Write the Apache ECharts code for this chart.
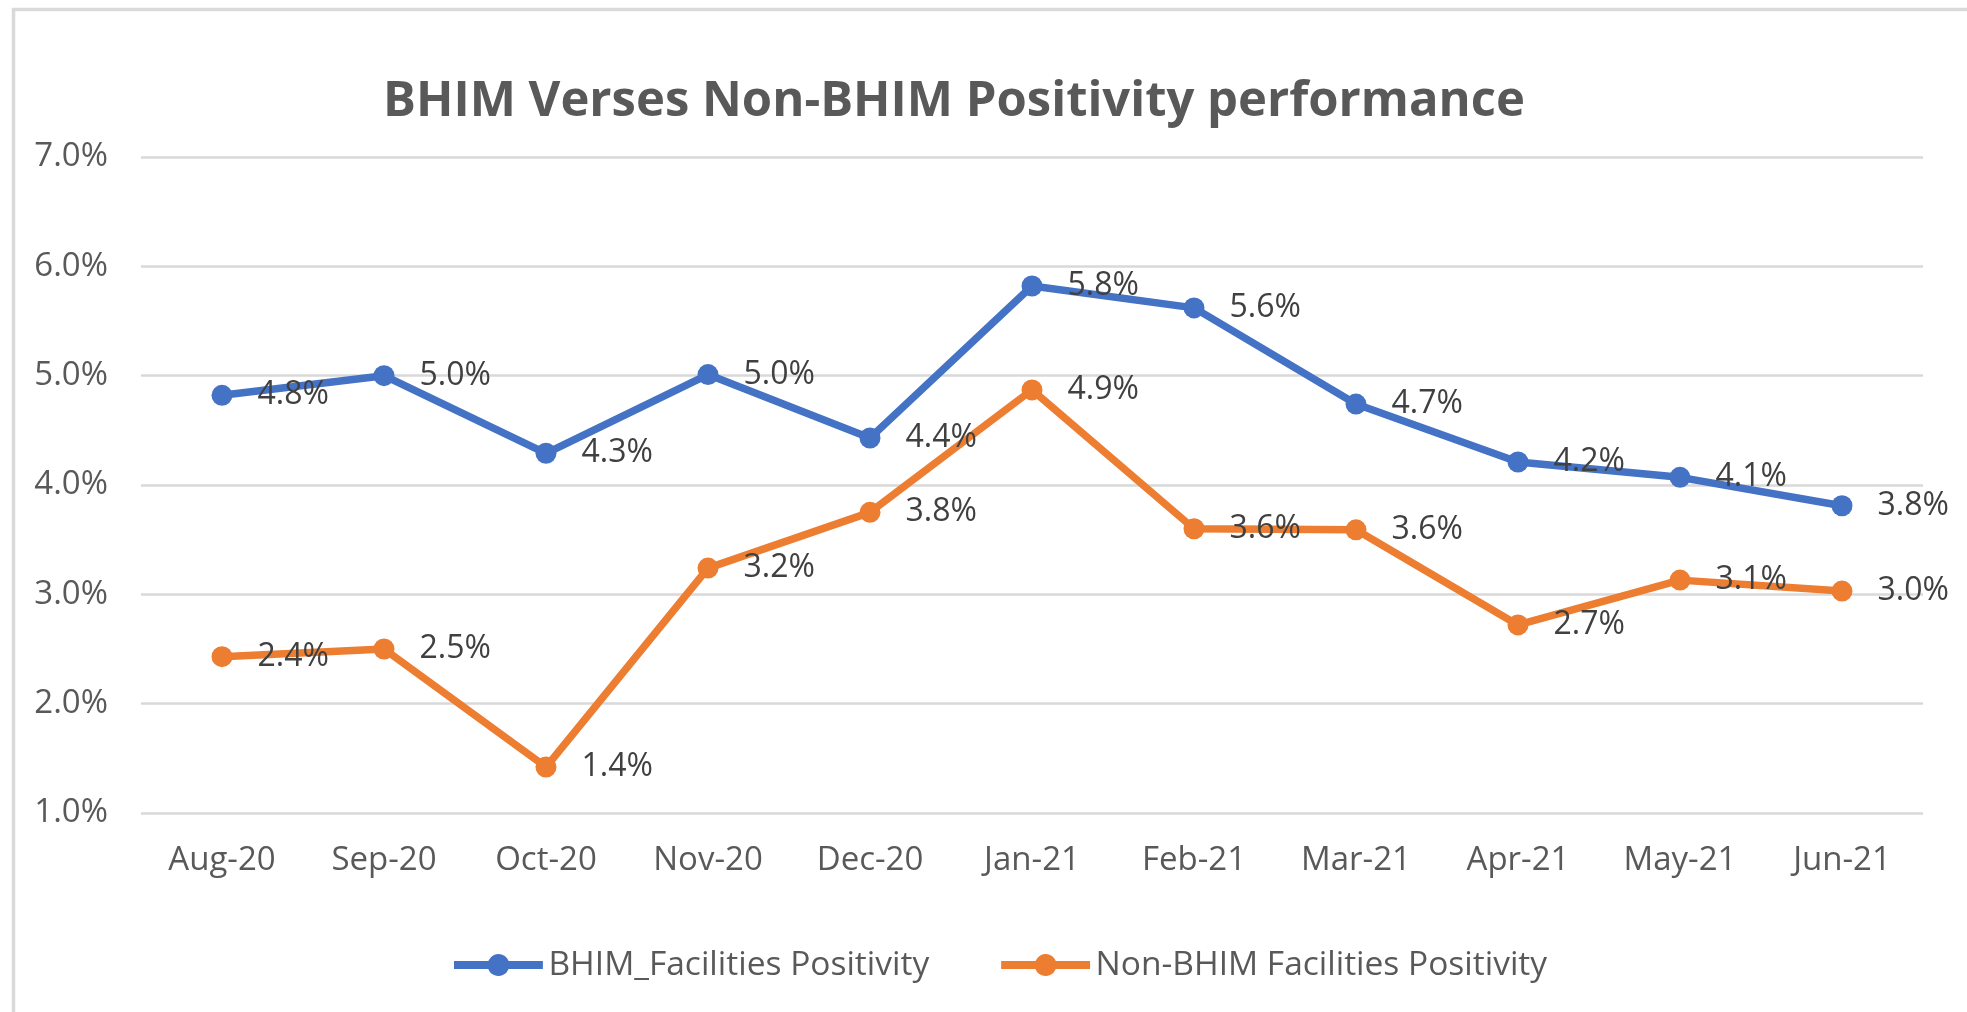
<!DOCTYPE html>
<html>
<head>
<meta charset="utf-8">
<script src="https://cdn.jsdelivr.net/npm/echarts@6/dist/echarts.min.js"></script>
<style>
html,body{margin:0;padding:0;background:#fff;}
#chart{width:1967px;height:1012px;}
</style>
</head>
<body>
<div id="chart"></div>
<script>
const categories = ['Aug-20','Sep-20','Oct-20','Nov-20','Dec-20','Jan-21','Feb-21','Mar-21','Apr-21','May-21','Jun-21'];
const bhimValues = [4.82, 5.0, 4.29, 5.01, 4.43, 5.82, 5.62, 4.74, 4.21, 4.07, 3.81];
const nonBhimValues = [2.43, 2.5, 1.42, 3.24, 3.75, 4.87, 3.6, 3.59, 2.72, 3.13, 3.03];
const seriesNames = ['BHIM_Facilities Positivity', 'Non-BHIM Facilities Positivity'];
const titleText = 'BHIM Verses Non-BHIM Positivity performance';

const chart = echarts.init(document.getElementById('chart'));
const labelFont = '"Open Sans", sans-serif';
const legendIcon = 'path://M0,11 L34.7,11 A11,11 0 0 1 55.3,11 L90,11 L90,19 L55.3,19 A11,11 0 0 1 34.7,19 L0,19 Z';
function mkSeries(name, data, color) {
  return {
    name: name, type: 'line', data: data,
    symbol: 'circle', symbolSize: 21,
    lineStyle: {color: color, width: 7.5},
    itemStyle: {color: color},
    label: {
      show: true, position: 'right', distance: 25,
      formatter: p => p.value.toFixed(1) + '%',
      color: '#404040', fontSize: 32, fontFamily: labelFont
    },
    emphasis: {disabled: true},
    animation: false
  };
}
chart.setOption({
  backgroundColor: '#fff',
  animation: false,
  title: {
    text: titleText, left: 378, top: 73,
    textStyle: {color: '#595959', fontSize: 49, fontWeight: 'bold', fontFamily: '"Open Sans", sans-serif'}
  },
  graphic: [{
    type: 'rect', left: 11, top: 7, shape: {width: 2000, height: 1100},
    style: {fill: 'none', stroke: '#d9d9d9', lineWidth: 3.5}, silent: true
  }],
  legend: {
    top: 943, left: 449, itemWidth: 90, itemHeight: 22, itemGap: 72,
    textStyle: {color: '#595959', fontSize: 33.5, fontFamily: labelFont},
    data: [
      {name: seriesNames[0], icon: legendIcon},
      {name: seriesNames[1], icon: legendIcon}
    ]
  },
  grid: {left: 141, right: 44, top: 157, bottom: 199, containLabel: false},
  xAxis: {
    type: 'category', data: categories, boundaryGap: true,
    axisLine: {show: false}, axisTick: {show: false},
    axisLabel: {color: '#595959', fontSize: 33, fontFamily: labelFont, margin: 31}
  },
  yAxis: {
    type: 'value', min: 1, max: 7, interval: 1,
    axisLine: {show: false}, axisTick: {show: false},
    axisLabel: {color: '#595959', fontSize: 33, fontFamily: labelFont, margin: 33,
      formatter: v => v.toFixed(1) + '%'},
    splitLine: {lineStyle: {color: '#d9d9d9', width: 2.5}}
  },
  series: [
    mkSeries(seriesNames[0], bhimValues, '#4472C4'),
    mkSeries(seriesNames[1], nonBhimValues, '#ED7D31')
  ]
});
</script>
</body>
</html>
